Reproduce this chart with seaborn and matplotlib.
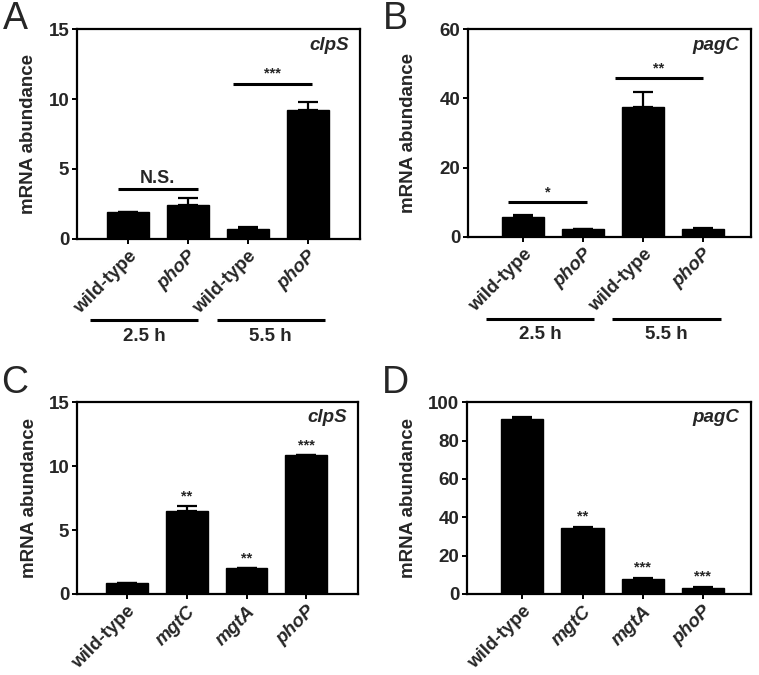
import numpy as np
import pandas as pd
import matplotlib
matplotlib.use('Agg')
import matplotlib.pyplot as plt
import seaborn as sns

# ---- data ----
# panel A: clpS, time course
a_keys = ['wt_2.5', 'phoP_2.5', 'wt_5.5', 'phoP_5.5']
a_labels = ['wild-type', 'phoP', 'wild-type', 'phoP']
a_mean = [1.9, 2.45, 0.72, 9.2]
a_err = [0.05, 0.45, 0.15, 0.6]

# panel B: pagC, time course
b_keys = ['wt_2.5', 'phoP_2.5', 'wt_5.5', 'phoP_5.5']
b_labels = ['wild-type', 'phoP', 'wild-type', 'phoP']
b_mean = [5.7, 2.2, 37.4, 2.3]
b_err = [0.6, 0.1, 4.5, 0.3]

# panel C: clpS, mutants
c_labels = ['wild-type', 'mgtC', 'mgtA', 'phoP']
c_mean = [0.85, 6.5, 2.0, 10.85]
c_err = [0.03, 0.35, 0.05, 0.05]
c_stars = ['', '**', '**', '***']

# panel D: pagC, mutants
d_labels = ['wild-type', 'mgtC', 'mgtA', 'phoP']
d_mean = [91.5, 34.5, 8.0, 3.2]
d_err = [0.8, 0.7, 0.3, 0.3]
d_stars = ['', '**', '***', '***']

FS = 13.5      # main text size
STAR_FS = 10.5

sns.set_style('ticks')
plt.rcParams['font.family'] = ['Liberation Sans', 'DejaVu Sans']
plt.rcParams['font.weight'] = 'bold'

fig = plt.figure(figsize=(7.59, 6.75), dpi=100)
axA = fig.add_axes([0.1014, 0.646, 0.3729, 0.311])
axB = fig.add_axes([0.6166, 0.649, 0.3729, 0.308])
axC = fig.add_axes([0.1014, 0.120, 0.3702, 0.284])
axD = fig.add_axes([0.6153, 0.120, 0.3742, 0.284])


def draw_bars(ax, keys, labels, mean, err, ymax, step, gene, xlim, ylab_x):
    df = pd.DataFrame({'group': keys, 'value': mean})
    sns.barplot(data=df, x='group', y='value', order=keys, color='black',
                edgecolor='black', width=0.7, ax=ax, errorbar=None, saturation=1)
    # upper error only
    ax.errorbar(np.arange(len(keys)), mean, yerr=[np.zeros(len(err)), err],
                fmt='none', ecolor='black', elinewidth=1.6, capsize=7, capthick=1.6)
    ax.set_ylim(0, ymax)
    ax.set_yticks(np.arange(0, ymax + 0.01, step))
    ax.set_xlim(*xlim)
    ax.set_xticks(range(len(keys)))
    ax.set_xticklabels(labels, rotation=45, ha='right', rotation_mode='anchor')
    for t, lab in zip(ax.get_xticklabels(), labels):
        t.set_fontsize(FS)
        t.set_fontweight('bold')
        if lab != 'wild-type':
            t.set_style('italic')
    for t in ax.get_yticklabels():
        t.set_fontsize(FS)
        t.set_fontweight('bold')
    ax.set_xlabel('')
    ax.set_ylabel('mRNA abundance', fontsize=FS, fontweight='bold')
    ax.yaxis.set_label_coords(ylab_x, 0.5)
    for s in ax.spines.values():
        s.set_linewidth(1.6)
        s.set_color('black')
    ax.tick_params(axis='both', length=3.5, width=1.4, color='black', pad=2)
    ax.tick_params(axis='x', pad=3)
    ax.text(0.96, 0.92, gene, transform=ax.transAxes, ha='right', va='center',
            fontsize=FS, fontweight='bold', style='italic')


def sig_line(ax, x0, x1, y, label, dy, fs=STAR_FS):
    ax.plot([x0, x1], [y, y], color='black', lw=2.2, solid_capstyle='butt')
    ax.text((x0 + x1) / 2, y + dy, label, ha='center', va='center',
            fontsize=fs, fontweight='bold')


def time_groups(ax, yline, ytext, spans):
    tr = ax.get_xaxis_transform()
    for x0, x1, lab in spans:
        ax.plot([x0, x1], [yline, yline], color='black', lw=2.2, transform=tr,
                clip_on=False, solid_capstyle='butt')
        ax.text((x0 + x1) / 2, ytext, lab, transform=tr, ha='center', va='center',
                fontsize=FS, fontweight='bold')


draw_bars(axA, a_keys, a_labels, a_mean, a_err, 15, 5, 'clpS', (-0.85, 3.87), -0.141)
sig_line(axA, -0.17, 1.17, 3.55, 'N.S.', 0.75, fs=13)
sig_line(axA, 1.75, 3.07, 11.1, '***', 0.75)
time_groups(axA, -0.386, -0.467, [(-0.63, 1.17, '2.5 h'), (1.48, 3.28, '5.5 h')])

draw_bars(axB, b_keys, b_labels, b_mean, b_err, 60, 20, 'pagC', (-0.92, 3.8), -0.18)
sig_line(axB, -0.25, 1.07, 10.0, '*', 2.7)
sig_line(axB, 1.53, 3.0, 45.8, '**', 2.7)
time_groups(axB, -0.394, -0.471, [(-0.62, 1.18, '2.5 h'), (1.48, 3.3, '5.5 h')])

draw_bars(axC, c_labels, c_labels, c_mean, c_err, 15, 5, 'clpS', (-0.83, 3.86), -0.139)
for i, s in enumerate(c_stars):
    if s:
        axC.text(i, c_mean[i] + c_err[i] + 0.75, s, ha='center', va='center',
                 fontsize=STAR_FS, fontweight='bold')

draw_bars(axD, d_labels, d_labels, d_mean, d_err, 100, 20, 'pagC', (-0.92, 3.8), -0.176)
for i, s in enumerate(d_stars):
    if s:
        axD.text(i, d_mean[i] + d_err[i] + 5.5, s, ha='center', va='center',
                 fontsize=STAR_FS, fontweight='bold')

# panel letters
for x, y, lab in [(0.004, 0.972, 'A'), (0.505, 0.972, 'B'),
                  (0.002, 0.432, 'C'), (0.503, 0.432, 'D')]:
    fig.text(x, y, lab, ha='left', va='center', fontsize=27, fontweight='normal')

fig.savefig('out.png', dpi=100)
